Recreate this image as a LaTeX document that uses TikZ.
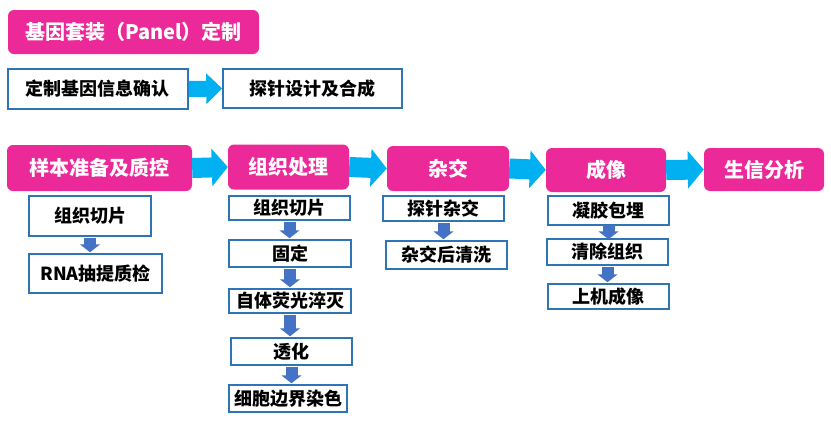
\documentclass[tikz,border=0pt]{standalone}
\usepackage{fontspec}
\setmainfont{Noto Sans CJK SC}
\usetikzlibrary{arrows.meta}
\definecolor{rosa}{RGB}{236,41,152}
\definecolor{celeste}{RGB}{0,176,240}
\definecolor{azulborde}{RGB}{46,117,182}
\definecolor{azulflecha}{RGB}{68,114,196}

\begin{document}
\begin{tikzpicture}[x=1pt, y=-1pt,
  etapa/.style={fill=rosa, rounded corners=6pt, text=white, inner sep=0pt,
    font=\bfseries\fontsize{20}{24}\selectfont},
  paso/.style={draw=azulborde, line width=1.5pt, fill=white, inner sep=0pt,
    font=\bfseries\fontsize{18}{21}\selectfont},
  flechamedia/.style={celeste, line width=16pt, -{Triangle[length=16pt, width=30pt]}},
  flechagrande/.style={celeste, line width=20pt, -{Triangle[length=16pt, width=37pt]}},
  flechachica/.style={azulflecha, line width=12pt, -{Triangle[length=8pt, width=20pt]},
    shorten <=1.5pt, shorten >=1pt}]
  \useasboundingbox (0,0) rectangle (831,426);

  % Titulo
  \node[etapa, minimum width=251pt, minimum height=44pt] (panel) at (133.5,32)
    {基因套装（Panel）定制};

  % Fila superior
  \node[paso, minimum width=180pt, minimum height=40pt] (confirma) at (98,89) {定制基因信息确认};
  \node[paso, minimum width=179pt, minimum height=39pt] (sonda) at (312.5,88.5) {探针设计及合成};
  \draw[flechamedia] (confirma.east) -- (sonda.west);

  % Etapas principales
  \node[etapa, minimum width=185pt, minimum height=46pt] (muestra) at (99.5,168) {样本准备及质控};
  \node[etapa, minimum width=121pt, minimum height=45pt] (tejido) at (288.5,167) {组织处理};
  \node[etapa, minimum width=122pt, minimum height=45pt] (hibrida) at (448,168.5) {杂交};
  \node[etapa, minimum width=120pt, minimum height=44pt] (imagen) at (606,170) {成像};
  \node[etapa, minimum width=120pt, minimum height=43pt] (bioinfo) at (764,169.5) {生信分析};
  \draw[flechagrande] (muestra.east) -- (tejido.west);
  \draw[flechagrande] (tejido.east) -- (hibrida.west);
  \draw[flechagrande] (hibrida.east) -- (imagen.west);
  \draw[flechagrande] (imagen.east) -- (bioinfo.west);

  % Columna 1
  \node[paso, minimum width=122pt, minimum height=40pt] (cortea) at (90,216) {组织切片};
  \node[paso, minimum width=133pt, minimum height=39pt] (rna) at (95.5,273.5) {RNA抽提质检};
  \draw[flechachica] (cortea.south) -- (cortea.south |- rna.north);

  % Columna 2
  \node[paso, minimum width=121pt, minimum height=24pt] (corteb) at (289.5,208) {组织切片};
  \node[paso, minimum width=122pt, minimum height=27pt] (fija) at (290,253.5) {固定};
  \node[paso, minimum width=122pt, minimum height=24pt] (apaga) at (290,301) {自体荧光淬灭};
  \node[paso, minimum width=121pt, minimum height=27pt] (permea) at (291.5,351.5) {透化};
  \node[paso, minimum width=118pt, minimum height=27pt] (tincion) at (288,398.5) {细胞边界染色};
  \draw[flechachica] (corteb.south) -- (corteb.south |- fija.north);
  \draw[flechachica] (fija.south) -- (fija.south |- apaga.north);
  \draw[flechachica] (apaga.south) -- (apaga.south |- permea.north);
  \draw[flechachica] (permea.south) -- (permea.south |- tincion.north);

  % Columna 3
  \node[paso, minimum width=121pt, minimum height=25pt] (sondahib) at (443.5,208.5) {探针杂交};
  \node[paso, minimum width=121pt, minimum height=28pt] (lavado) at (446.5,255) {杂交后清洗};
  \draw[flechachica] (sondahib.south) -- (sondahib.south |- lavado.north);

  % Columna 4
  \node[paso, minimum width=121pt, minimum height=29pt] (gel) at (608.5,210.5) {凝胶包埋};
  \node[paso, minimum width=121pt, minimum height=26pt] (limpia) at (607.5,252) {清除组织};
  \node[paso, minimum width=121pt, minimum height=25pt] (maquina) at (608.5,296.5) {上机成像};
  \draw[flechachica, shorten <=-0.5pt, shorten >=-1pt] (gel.south) -- (gel.south |- limpia.north);
  \draw[flechachica] (limpia.south) -- (limpia.south |- maquina.north);
\end{tikzpicture}
\end{document}
